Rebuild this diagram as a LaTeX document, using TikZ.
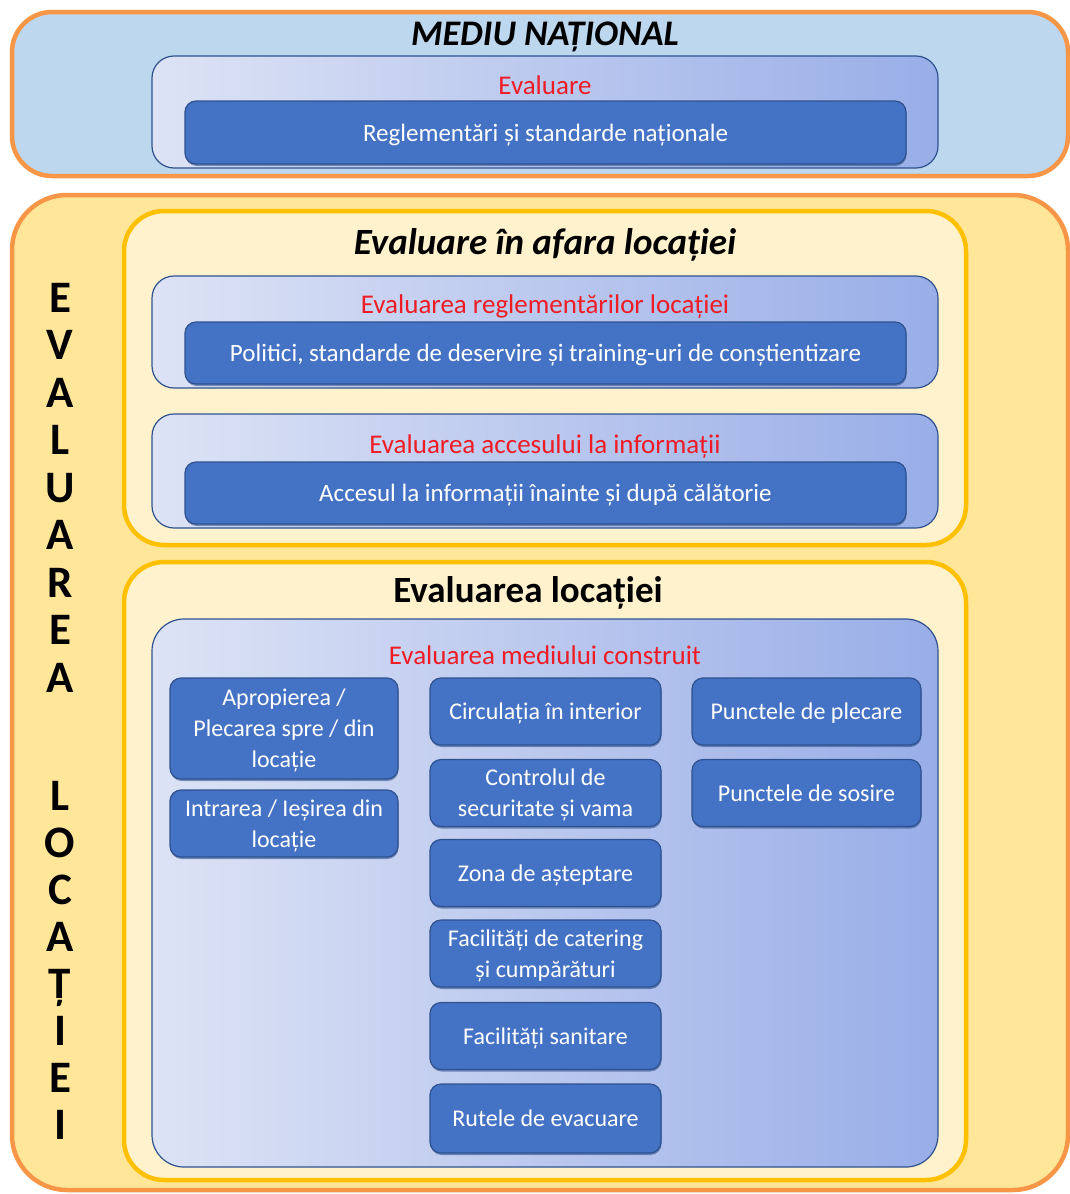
\documentclass[tikz,border=0pt]{standalone}
\usepackage{fontspec}
\usetikzlibrary{shadows}
\setmainfont{Carlito}
\definecolor{orB}{HTML}{F79646}
\definecolor{blueF}{HTML}{BDD7EE}
\definecolor{yelF}{HTML}{FFE699}
\definecolor{goldB}{HTML}{FFC000}
\definecolor{creamF}{HTML}{FFF2CC}
\definecolor{gradL}{HTML}{DDE3F5}
\definecolor{gradR}{HTML}{99AEE8}
\definecolor{navyB}{HTML}{2F528F}
\definecolor{boxF}{HTML}{4472C4}
\definecolor{redT}{HTML}{EE1C25}
\begin{document}
\begin{tikzpicture}[x=1pt,y=-1pt,
  outerbox/.style={draw=orB, line width=4.5pt, inner sep=0pt, rounded corners=40pt},
  framebox/.style={draw=goldB, fill=creamF, line width=4.5pt, inner sep=0pt, rounded corners=40pt},
  gradbox/.style={draw=navyB, line width=1.2pt, left color=gradL, right color=gradR, inner sep=0pt, rounded corners=22pt},
  boxshadow/.style={drop shadow={shadow xshift=0.5pt, shadow yshift=-2pt, fill=navyB, opacity=0.6}},
  darkbox/.style={boxshadow, draw=navyB, line width=1.2pt, fill=boxF, inner sep=0pt, rounded corners=11pt, text=white, text depth=0pt, font=\fontsize{25}{30}\selectfont},
  smallbox/.style={boxshadow, draw=navyB, line width=1.2pt, fill=boxF, inner sep=0pt, rounded corners=11pt, text=white, align=center, text depth=0pt, font=\fontsize{24}{31}\selectfont},
  redhead/.style={text=redT, inner sep=0pt, anchor=base, font=\fontsize{27}{32}\selectfont},
  title/.style={inner sep=0pt, anchor=base, font=\fontsize{37}{44}\selectfont\bfseries},
  vletter/.style={inner sep=0pt, anchor=base, font=\fontsize{45}{50}\selectfont\bfseries}
]
\useasboundingbox (0,0) rectangle (1070,1194);
% ---- national level
\node[outerbox, fill=blueF, minimum width=1056pt, minimum height=164pt] (nat) at (540,94) {};
\node[title, font=\fontsize{36}{42}\selectfont\bfseries\itshape] (natT) at (545,45) {MEDIU NAȚIONAL};
\node[gradbox, minimum width=786pt, minimum height=112pt] (natG) at (545,112) {};
\node[redhead] (natR) at (545,94) {Evaluare};
\node[darkbox, minimum width=721pt, minimum height=63pt] (natD) at (545.5,132.5) {Reglementări și standarde naționale};
% ---- location level
\node[outerbox, fill=yelF, minimum width=1056pt, minimum height=995pt, rounded corners=55pt] (loc) at (540,692.5) {};
\foreach \l [count=\i] in {E,V,A,L,U,A,R,E,A}
  \node[vletter] (ev\i) at (60,{312+47.5*(\i-1)}) {\l};
\foreach \l [count=\i] in {L,O,C,A,Ț,I,E,I}
  \node[vletter] (lc\i) at (60,{810+47.1*(\i-1)}) {\l};
% off-site
\node[framebox, minimum width=842pt, minimum height=334pt] (off) at (545,378) {};
\node[title, font=\fontsize{37}{44}\selectfont\bfseries\itshape] (offT) at (545,254) {Evaluare în afara locației};
\node[gradbox, minimum width=786pt, minimum height=112pt] (offG1) at (545,332) {};
\node[redhead] (offR1) at (545,313) {Evaluarea reglementărilor locației};
\node[darkbox, minimum width=721pt, minimum height=62pt] (offD1) at (545.5,353) {Politici, standarde de deservire și training-uri de conștientizare};
\node[gradbox, minimum width=786pt, minimum height=114pt] (offG2) at (545,471) {};
\node[redhead] (offR2) at (545,453) {Evaluarea accesului la informații};
\node[darkbox, minimum width=721pt, minimum height=62pt] (offD2) at (545.5,493) {Accesul la informații înainte și după călătorie};
% on-site
\node[framebox, minimum width=842pt, minimum height=618pt] (on) at (545,871) {};
\node[title] (onT) at (528,602) {Evaluarea locației};
\node[gradbox, minimum width=786pt, minimum height=548pt, rounded corners=32pt] (onG) at (545,893) {};
\node[redhead] (onR) at (545,664) {Evaluarea mediului construit};
\node[smallbox, minimum width=228pt, minimum height=101pt] (a1) at (284,728.5) {Apropierea /\\Plecarea spre / din\\locație};
\node[smallbox, minimum width=228pt, minimum height=67pt] (a2) at (284,823.5) {Intrarea / Ieșirea din\\locație};
\node[smallbox, minimum width=231pt, minimum height=67pt] (b1) at (545.5,711.5) {Circulația în interior};
\node[smallbox, minimum width=231pt, minimum height=67pt] (b2) at (545.5,793) {Controlul de\\securitate și vama};
\node[smallbox, minimum width=231pt, minimum height=67pt] (b3) at (545.5,873) {Zona de așteptare};
\node[smallbox, minimum width=231pt, minimum height=67pt] (b4) at (545.5,953.5) {Facilități de catering\\și cumpărături};
\node[smallbox, minimum width=231pt, minimum height=67pt] (b5) at (545.5,1036) {Facilități sanitare};
\node[smallbox, minimum width=231pt, minimum height=69pt] (b6) at (545.5,1118.5) {Rutele de evacuare};
\node[smallbox, minimum width=229pt, minimum height=67pt] (c1) at (806.5,711.5) {Punctele de plecare};
\node[smallbox, minimum width=229pt, minimum height=67pt] (c2) at (806.5,793) {Punctele de sosire};
\end{tikzpicture}
\end{document}
